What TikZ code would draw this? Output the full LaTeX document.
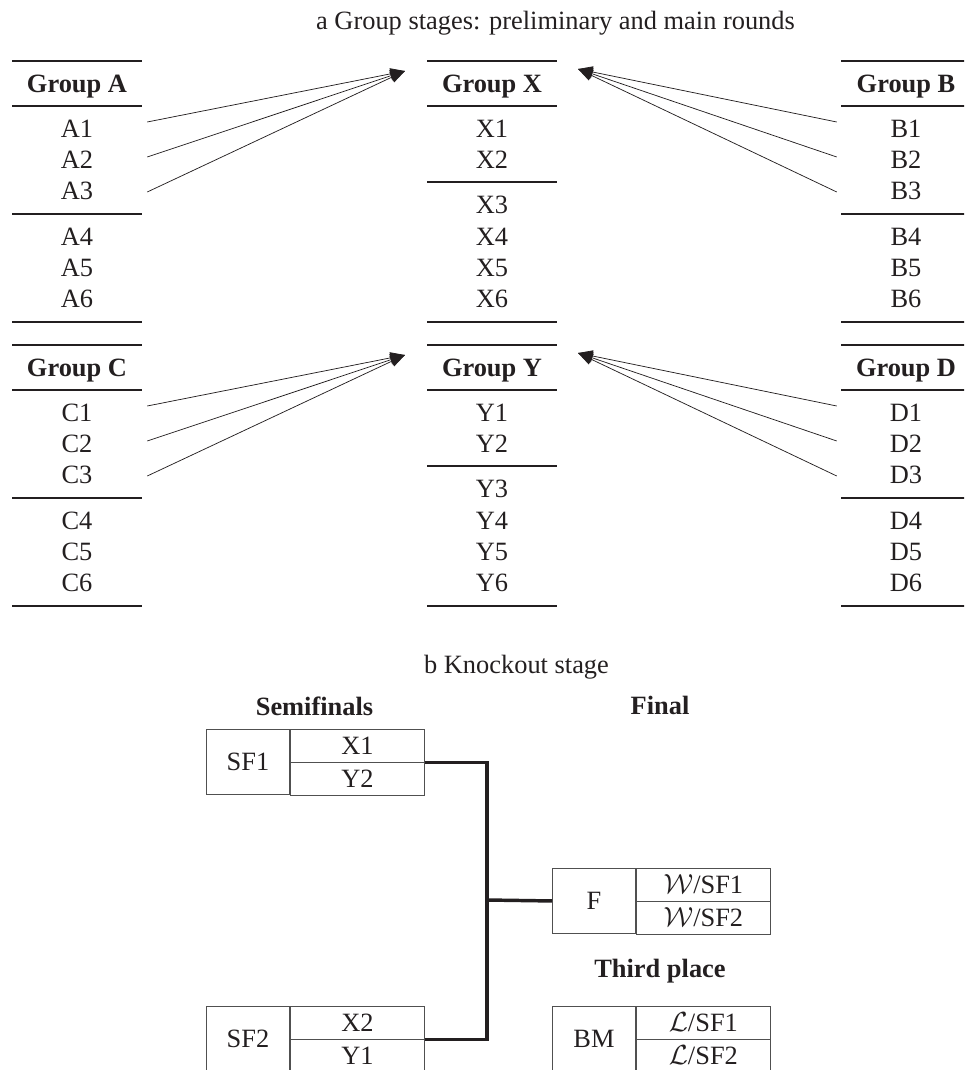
\documentclass[tikz,border=0pt]{standalone}
\usepackage{fontspec}
\setmainfont{Liberation Serif}
\usetikzlibrary{arrows.meta,calc}
\definecolor{ink}{HTML}{231F20}
\definecolor{boxline}{HTML}{505050}
\tikzset{
  txt/.style={inner sep=0pt, text height=13.1pt, text depth=0pt, text=ink,
    font=\fontsize{19.8}{24}\selectfont},
  hdr/.style={txt, font=\fontsize{19.8}{24}\selectfont\bfseries},
  row/.style={txt, minimum width=97.5pt},
  thickrule/.style={draw=ink, line width=1.5pt},
  thinrule/.style={draw=ink, line width=0.8pt},
  feed/.style={draw=ink, line width=0.55pt, -{Triangle[length=11pt,width=8.5pt]}},
  cell/.style={txt, draw=boxline, line width=0.7pt, anchor=north west},
  bracket/.style={draw=ink, line width=2.6pt, line join=miter},
}
% group table, first type: rule after the third row
\newcommand{\grouptabA}[3]{%
  \draw[thickrule] (#2-65,#3) -- (#2+65,#3);
  \node[hdr] (h#1) at (#2,#3+23) {Group #1};
  \draw[thinrule] (#2-65,#3+45) -- (#2+65,#3+45);
  \node[row] (#11) at (#2,#3+68) {#11};
  \node[row] (#12) at (#2,#3+99) {#12};
  \node[row] (#13) at (#2,#3+130) {#13};
  \draw[thinrule] (#2-65,#3+153) -- (#2+65,#3+153);
  \node[row] (#14) at (#2,#3+176) {#14};
  \node[row] (#15) at (#2,#3+207) {#15};
  \node[row] (#16) at (#2,#3+238) {#16};
  \draw[thickrule] (#2-65,#3+261) -- (#2+65,#3+261);
}
% group table, second type: rule after the second row
\newcommand{\grouptabX}[3]{%
  \draw[thickrule] (#2-65,#3) -- (#2+65,#3);
  \node[hdr] (h#1) at (#2,#3+23) {Group #1};
  \draw[thinrule] (#2-65,#3+45) -- (#2+65,#3+45);
  \node[row] (#11) at (#2,#3+68) {#11};
  \node[row] (#12) at (#2,#3+99) {#12};
  \draw[thinrule] (#2-65,#3+121) -- (#2+65,#3+121);
  \node[row] (#13) at (#2,#3+144) {#13};
  \node[row] (#14) at (#2,#3+176) {#14};
  \node[row] (#15) at (#2,#3+207) {#15};
  \node[row] (#16) at (#2,#3+238) {#16};
  \draw[thickrule] (#2-65,#3+261) -- (#2+65,#3+261);
}
% match box: name, x left, y top, label, upper entry, lower entry
\newcommand{\matchbox}[6]{%
  \node[cell, minimum width=62.25pt, minimum height=48.75pt] (#1) at (#2,#3) {#4};
  \node[cell, minimum width=100.5pt, minimum height=24.375pt] (#1t) at (#1.north east) {#5};
  \node[cell, minimum width=100.5pt, minimum height=24.375pt] (#1b) at (#1t.south west) {#6};
}
\begin{document}
\begin{tikzpicture}[x=0.75pt, y=-0.75pt]
\useasboundingbox (0,0) rectangle (964,1070);
\clip (0,0) rectangle (964,1070);

% ---------- part a ----------
\node[txt] (ta) at (555.5,21) {a Group stages: preliminary and main rounds};

\grouptabA{A}{77}{61}
\grouptabX{X}{492}{61}
\grouptabA{B}{906}{61}
\grouptabA{C}{77}{345}
\grouptabX{Y}{492}{345}
\grouptabA{D}{906}{345}

\coordinate (tipXl) at (405,71);
\coordinate (tipXr) at (578,69);
\coordinate (tipYl) at (405,355);
\coordinate (tipYr) at (578,353);

\draw[feed] ([shift={(5,-7)}]A1.east) -- (tipXl);
\draw[feed] ([shift={(5,-3)}]A2.east) -- (tipXl);
\draw[feed] ([shift={(5,1)}]A3.east) -- (tipXl);
\draw[feed] ([shift={(-4,-7)}]B1.west) -- (tipXr);
\draw[feed] ([shift={(-4,-3)}]B2.west) -- (tipXr);
\draw[feed] ([shift={(-4,1)}]B3.west) -- (tipXr);

\draw[feed] ([shift={(5,-7)}]C1.east) -- (tipYl);
\draw[feed] ([shift={(5,-3)}]C2.east) -- (tipYl);
\draw[feed] ([shift={(5,1)}]C3.east) -- (tipYl);
\draw[feed] ([shift={(-4,-7)}]D1.west) -- (tipYr);
\draw[feed] ([shift={(-4,-3)}]D2.west) -- (tipYr);
\draw[feed] ([shift={(-4,1)}]D3.west) -- (tipYr);

% ---------- part b ----------
\node[txt] (tb) at (516.5,665) {b Knockout stage};
\node[hdr] (semi) at (314.5,707) {Semifinals};
\node[hdr] (fin) at (660,706) {Final};
\node[hdr] (third) at (660,969) {Third place};

\matchbox{SF1}{206}{729}{SF1}{X1}{Y2}
\matchbox{SF2}{206}{1006}{SF2}{X2}{Y1}
\matchbox{F}{552}{868}{F}{$\mathcal{W}$/SF1}{$\mathcal{W}$/SF2}
\matchbox{BM}{552}{1006}{BM}{$\mathcal{L}$/SF1}{$\mathcal{L}$/SF2}

\coordinate (jn) at (487,900);
\draw[bracket] (SF1t.south east) -| (jn) |- (SF2t.south east);
\draw[bracket] (jn) -- (F.west);
\end{tikzpicture}
\end{document}
